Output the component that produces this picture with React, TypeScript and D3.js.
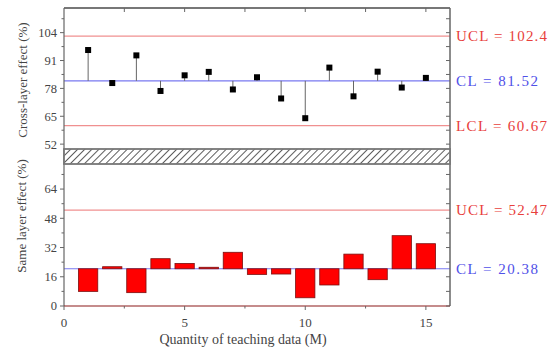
import React from "react";
import * as d3 from "d3";

// sample index on the x axis
const samples = [1, 2, 3, 4, 5, 6, 7, 8, 9, 10, 11, 12, 13, 14, 15];
// cross-layer effect (%) per sample
const crossLayer = [95.9, 80.5, 93.4, 76.8, 84.1, 85.7, 77.5, 83.2, 73.3, 64.1, 87.7, 74.3, 85.8, 78.4, 82.9];
// same layer effect (%) per sample
const sameLayer = [8.0, 21.5, 7.3, 25.9, 23.3, 21.2, 29.4, 17.3, 17.5, 4.5, 11.5, 28.4, 14.4, 38.5, 34.1];

const crossLimitNames = ["UCL", "CL", "LCL"];
const crossLimitValues = [102.4, 81.52, 60.67];
const sameLimitNames = ["UCL", "CL"];
const sameLimitValues = [52.47, 20.38];

const crossTicks = [52, 65, 78, 91, 104];
const sameTicks = [0, 16, 32, 48, 64];
const xTicks = [0, 5, 10, 15];

const W = 559;
const H = 351;
const left = 64;
const right = 450;
const top = 8;
const breakTop = 149;
const breakBottom = 164;
const bottom = 306;

const x = d3.scaleLinear().domain([0, 16]).range([left, right]);
const yTop = d3.scaleLinear().domain([49.5, 115.5]).range([breakTop + 0.5, top]);
const yBot = d3.scaleLinear().domain([0, 78]).range([bottom, breakBottom - 0.5]);

const limitColor = (name: string) => (name === "CL" ? "#7878f0" : "#f09090");
const limitText = (name: string) => (name === "CL" ? "#5050e8" : "#e8403c");

const font = "'Liberation Serif', 'DejaVu Serif', serif";
const axisColor = "#666";
const labelColor = "#444";

export default function App() {
  const cl = crossLimitValues[1];
  const sameCl = sameLimitValues[1];
  const barW = (x(1) - x(0)) * 0.8;

  const topMinor = d3.range(58.5, 115, 13);
  const rightTop = d3.range(52, 115, 6.5);
  const botMinor = d3.range(8, 78, 16);
  const rightBot = d3.range(0, 78, 8);
  const xMinor = [2.5, 7.5, 12.5];
  const topXTicks = d3.range(2.5, 16, 2.5);

  return (
    <svg width={W} height={H} style={{ position: "absolute", left: 0, top: 0, background: "#fff" }} fontFamily={font}>
      <defs>
        <pattern id="hatch" width="5" height="5" patternUnits="userSpaceOnUse" patternTransform="rotate(45)">
          <rect width="5" height="5" fill="#fff" />
          <line x1="0" y1="0" x2="0" y2="5" stroke="#333" strokeWidth="1.6" />
        </pattern>
      </defs>

      {/* control lines, top panel */}
      {crossLimitValues.map((v, i) => (
        <line key={"cl" + i} x1={left} x2={right} y1={yTop(v)} y2={yTop(v)} stroke={limitColor(crossLimitNames[i])} strokeWidth={1.2} />
      ))}
      {/* control lines, bottom panel */}
      {sameLimitValues.map((v, i) => (
        <line key={"sl" + i} x1={left} x2={right} y1={yBot(v)} y2={yBot(v)} stroke={limitColor(sameLimitNames[i])} strokeWidth={1.2} />
      ))}

      {/* stems and markers */}
      {samples.map((s, i) => (
        <g key={"p" + s}>
          <line x1={x(s)} x2={x(s)} y1={yTop(cl)} y2={yTop(crossLayer[i])} stroke="#666" strokeWidth={1} />
          <rect x={x(s) - 3} y={yTop(crossLayer[i]) - 3} width={6} height={6} fill="#000" />
        </g>
      ))}

      {/* bars around CL */}
      {samples.map((s, i) => {
        const y0 = yBot(sameCl);
        const y1 = yBot(sameLayer[i]);
        return (
          <rect key={"b" + s} x={x(s) - barW / 2} y={Math.min(y0, y1)} width={barW} height={Math.abs(y1 - y0)} fill="#ff0000" stroke="#7a1010" strokeWidth={0.8} />
        );
      })}

      {/* frame */}
      <line x1={left} x2={right} y1={top} y2={top} stroke="#777" strokeWidth={2} />
      <line x1={left} x2={left} y1={top} y2={bottom} stroke={axisColor} strokeWidth={1.2} />
      <line x1={right} x2={right} y1={top} y2={bottom} stroke={axisColor} strokeWidth={1.5} />
      <line x1={left} x2={right} y1={bottom} y2={bottom} stroke="#8b1a1a" strokeWidth={1.2} />
      <rect x={left} y={breakTop} width={right - left} height={breakBottom - breakTop} fill="url(#hatch)" stroke="#777" strokeWidth={1.8} />

      {/* top ticks */}
      {topXTicks.map((t) => (
        <line key={"tx" + t} x1={x(t)} x2={x(t)} y1={top} y2={top + 4} stroke={axisColor} />
      ))}

      {/* left ticks top panel */}
      {crossTicks.map((t) => (
        <g key={"ct" + t}>
          <line x1={left - 4} x2={left} y1={yTop(t)} y2={yTop(t)} stroke={axisColor} />
          <text x={left - 7} y={yTop(t)} dy="0.35em" textAnchor="end" fontSize={12.5} fill={labelColor}>{t}</text>
        </g>
      ))}
      {topMinor.map((t) => (
        <line key={"cm" + t} x1={left - 2.5} x2={left} y1={yTop(t)} y2={yTop(t)} stroke={axisColor} />
      ))}
      {rightTop.map((t) => (
        <line key={"rt" + t} x1={right - 4} x2={right} y1={yTop(t)} y2={yTop(t)} stroke={axisColor} />
      ))}

      {/* left ticks bottom panel */}
      {sameTicks.map((t) => (
        <g key={"st" + t}>
          <line x1={left - 4} x2={left} y1={yBot(t)} y2={yBot(t)} stroke={axisColor} />
          <text x={left - 7} y={yBot(t)} dy="0.35em" textAnchor="end" fontSize={12.5} fill={labelColor}>{t}</text>
        </g>
      ))}
      {botMinor.map((t) => (
        <line key={"sm" + t} x1={left - 2.5} x2={left} y1={yBot(t)} y2={yBot(t)} stroke={axisColor} />
      ))}
      {rightBot.map((t) => (
        <line key={"rb" + t} x1={right - 4} x2={right} y1={yBot(t)} y2={yBot(t)} stroke={axisColor} />
      ))}

      {/* bottom x ticks */}
      {xTicks.map((t) => (
        <g key={"xt" + t}>
          <line x1={x(t)} x2={x(t)} y1={bottom} y2={bottom + 4} stroke={axisColor} />
          <text x={x(t)} y={bottom + 21} textAnchor="middle" fontSize={13} fill={labelColor}>{t}</text>
        </g>
      ))}
      {xMinor.map((t) => (
        <line key={"xm" + t} x1={x(t)} x2={x(t)} y1={bottom} y2={bottom + 2.5} stroke={axisColor} />
      ))}

      {/* control limit labels */}
      {crossLimitValues.map((v, i) => {
        const label = `${crossLimitNames[i]} = ${v}`;
        return (
          <text key={"clt" + i} x={456} y={yTop(v)} dy="0.35em" fontSize={15} fill={limitText(crossLimitNames[i])}
            textLength={crossLimitNames[i] === "CL" ? 82 : 91} lengthAdjust="spacing">{label}</text>
        );
      })}
      {sameLimitValues.map((v, i) => {
        const label = `${sameLimitNames[i]} = ${v}`;
        return (
          <text key={"slt" + i} x={456} y={yBot(v)} dy="0.35em" fontSize={15} fill={limitText(sameLimitNames[i])}
            textLength={sameLimitNames[i] === "CL" ? 82 : 91} lengthAdjust="spacing">{label}</text>
        );
      })}

      {/* axis titles */}
      <text transform={`translate(27,80) rotate(-90)`} textAnchor="middle" fontSize={13} fill={labelColor}>Cross-layer effect (%)</text>
      <text transform={`translate(26,216) rotate(-90)`} textAnchor="middle" fontSize={13} fill={labelColor}>Same layer effect (%)</text>
      <text x={243} y={344} textAnchor="middle" fontSize={14} fill={labelColor}>Quantity of teaching data (M)</text>
    </svg>
  );
}
